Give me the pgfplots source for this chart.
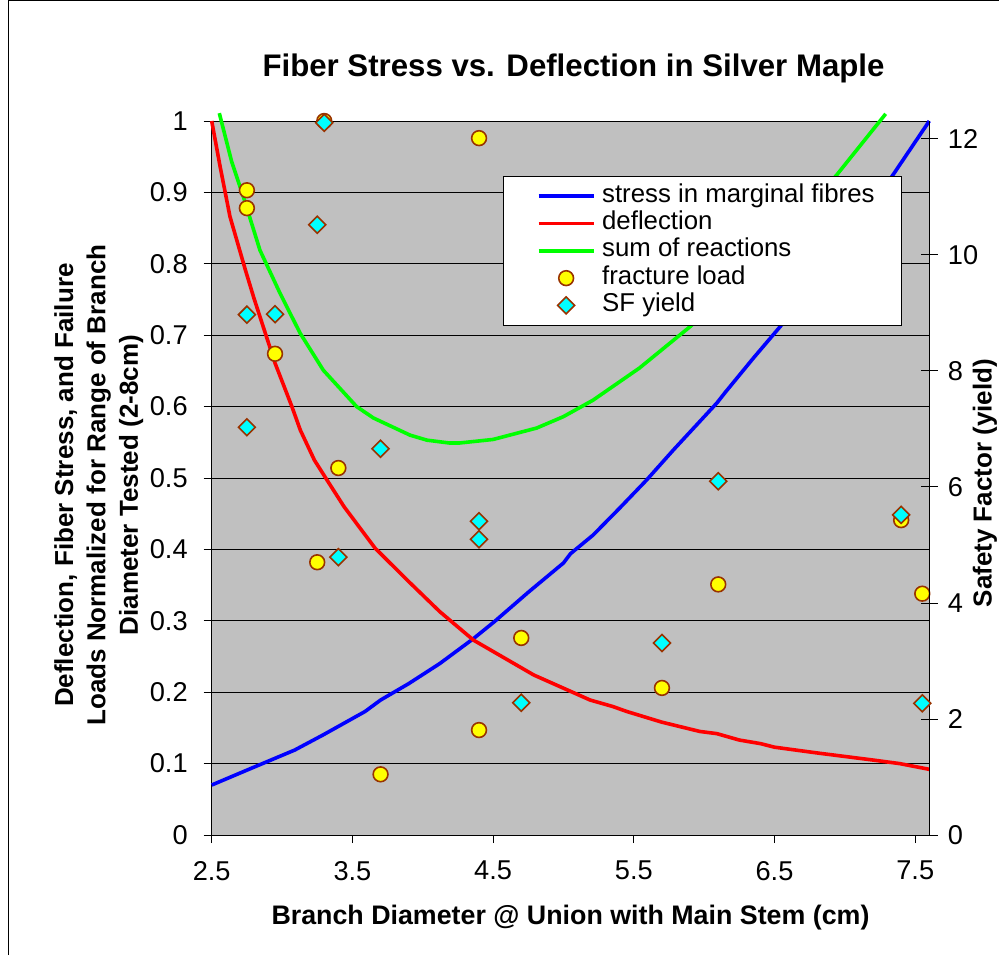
\documentclass[border=0pt]{standalone}
\usepackage{fontspec}
\setmainfont{Liberation Sans}
\usepackage{pgfplots}
\pgfplotsset{compat=1.18}
\definecolor{plotgray}{HTML}{C0C0C0}
\definecolor{framegray}{HTML}{808080}
\definecolor{mkedge}{HTML}{993300}
\definecolor{cblue}{HTML}{0000FF}
\definecolor{cred}{HTML}{FF0000}
\definecolor{cgreen}{HTML}{00FF00}
\definecolor{cyellow}{HTML}{FFFF00}
\definecolor{ccyan}{HTML}{00FFFF}
\begin{document}
\begin{tikzpicture}
\useasboundingbox (0,0) rectangle (499.5pt,477.5pt);
\draw[black, line width=0.5pt] (4pt,0pt) -- (4pt,477pt) -- (499.5pt,477pt);
\node[font=\bfseries\fontsize{15.6}{18}\selectfont, anchor=base] at (286.75pt,439pt) {Fiber Stress vs. Deflection in Silver Maple};
\begin{axis}[
  at={(105.85pt,60pt)}, anchor=south west,
  width=358.8pt, height=357pt, scale only axis,
  xmin=2.5, xmax=7.6, ymin=0, ymax=1,
  axis x line*=bottom, axis y line*=left,
  axis line style={black, line width=0.5pt},
  axis background/.style={fill=plotgray, draw=framegray, line width=0.5pt},
  xtick={2.5,3.5,4.5,5.5,6.5,7.5},
  ytick={0,0.1,0.2,0.3,0.4,0.5,0.6,0.7,0.8,0.9,1},
  /pgf/number format/assume math mode=true,
  ticklabel style={font=\fontsize{13.6}{15}\selectfont},
  yticklabel style={xshift=-4.5pt},
  xticklabel style={yshift=-5.5pt, /pgf/number format/.cd, fixed, fixed zerofill, precision=1},
  tick align=outside, major tick length=4pt,
  tick style={black, line width=0.5pt},
  ymajorgrids, major grid style={black, line width=0.5pt},
  clip=false,
  xlabel={Branch Diameter @ Union with Main Stem (cm)},
  xlabel style={at={(axis description cs:0.5,-0.1155)}, anchor=center, font=\bfseries\fontsize{13.4}{15}\selectfont},
  ylabel={Deflection, Fiber Stress, and Failure\\Loads Normalized for Range of Branch\\Diameter Tested (2-8cm)},
  ylabel style={at={(axis description cs:-0.1575,0.49)}, anchor=center, align=center, font=\bfseries\fontsize{13}{16.2}\selectfont},
]
\addplot[cblue, line width=1.8pt, mark=none] coordinates {
(2.5,0.07) (2.8,0.095) (3.09,0.119) (3.29,0.14) (3.59,0.173) (3.70,0.189)
(3.9,0.212) (4.12,0.24) (4.36,0.275) (4.51,0.299) (4.75,0.34) (5.0,0.381)
(5.05,0.394) (5.21,0.42) (5.4,0.458) (5.59,0.497) (5.78,0.539) (6.09,0.605)
(6.15,0.62) (6.35,0.668) (6.54,0.712) (6.8,0.78) (7.05,0.846) (7.2,0.885)
(7.34,0.924) (7.6,1.0)};
\addplot[cred, line width=1.8pt, mark=none] coordinates {
(2.5,1.0) (2.56,0.936) (2.63,0.866) (2.74,0.791) (2.8,0.752) (2.95,0.661)
(3.07,0.6) (3.13,0.567) (3.23,0.525) (3.32,0.497) (3.44,0.46) (3.66,0.402)
(3.9,0.355) (4.12,0.313) (4.36,0.273) (4.79,0.224) (5.19,0.189) (5.35,0.18)
(5.45,0.173) (5.7,0.158) (5.97,0.145) (6.09,0.142) (6.25,0.133) (6.4,0.128)
(6.5,0.123) (6.8,0.115) (7.0,0.11) (7.2,0.105) (7.39,0.1) (7.6,0.092)};
\addplot[cgreen, line width=1.8pt, mark=none] coordinates {
(2.554,1.011) (2.642,0.943) (2.725,0.894) (2.843,0.819) (2.985,0.759)
(3.128,0.703) (3.293,0.651) (3.53,0.600) (3.65,0.584) (3.91,0.560)
(4.03,0.553) (4.19,0.549) (4.26,0.549) (4.50,0.554) (4.81,0.570)
(5.0,0.586) (5.21,0.609) (5.54,0.654) (5.90,0.712) (6.2,0.768)
(6.5,0.828) (6.94,0.924) (7.29,1.01)};
\addplot[only marks, mark=*, mark size=3.7pt, mark options={fill=cyellow, draw=mkedge, line width=0.8pt}] coordinates {
(3.3,1.0) (2.75,0.903) (2.75,0.878) (2.95,0.674) (3.4,0.514) (3.25,0.382)
(3.7,0.085) (4.4,0.976) (4.4,0.147) (4.7,0.276) (5.7,0.206) (6.1,0.351)
(7.4,0.441) (7.55,0.338)};
\end{axis}
\begin{axis}[
  at={(105.85pt,60pt)}, anchor=south west,
  width=358.8pt, height=357pt, scale only axis,
  xmin=2.5, xmax=7.6, ymin=0, ymax=12.31,
  axis x line=none, axis y line*=right,
  axis line style={black, line width=0.5pt},
  ytick={0,2,4,6,8,10,12},
  /pgf/number format/assume math mode=true,
  ticklabel style={font=\fontsize{13.6}{15}\selectfont},
  yticklabel style={xshift=1.5pt},
  tick align=center, major tick length=8.5pt,
  tick style={black, line width=0.5pt},
  clip=false,
  ylabel={Safety Factor (yield)},
  ylabel style={at={(axis description cs:1.0776,0.493)}, anchor=center, font=\bfseries\fontsize{13}{15}\selectfont},
  legend image code/.code={\path (-6.5pt,0pt); \draw[mark repeat=2,mark phase=2,#1] plot coordinates {(0pt,0pt)(13.75pt,0pt)(27.5pt,0pt)};},
  legend cell align=left,
  legend style={at={(0.4064,0.9234)}, anchor=north west, draw=black, fill=white, line width=0.5pt,
    font=\fontsize{12.9}{14}\selectfont, inner xsep=10pt, inner ysep=3.2pt, row sep=0pt,
    nodes={inner xsep=3.35pt, inner ysep=0pt, text height=9.8pt, text depth=3.85pt}},
]
\addlegendimage{cblue, line width=1.8pt}
\addlegendentry{stress in marginal fibres}
\addlegendimage{cred, line width=1.8pt}
\addlegendentry{deflection}
\addlegendimage{cgreen, line width=1.8pt}
\addlegendentry{sum of reactions}
\addlegendimage{only marks, mark=*, mark size=3.7pt, mark options={fill=cyellow, draw=mkedge, line width=0.8pt}}
\addlegendentry{fracture load}
\addplot[only marks, mark=square*, mark size=3pt, mark options={rotate=45, fill=ccyan, draw=mkedge, line width=0.8pt}] coordinates {
(3.3,12.28) (3.25,10.52) (2.75,8.97) (2.95,8.98) (2.75,7.03) (3.7,6.66)
(3.4,4.79) (4.4,5.41) (4.4,5.10) (4.7,2.28) (5.7,3.31) (6.1,6.10)
(7.4,5.52) (7.55,2.27)};
\addlegendentry{SF yield}
\end{axis}
\end{tikzpicture}
\end{document}
